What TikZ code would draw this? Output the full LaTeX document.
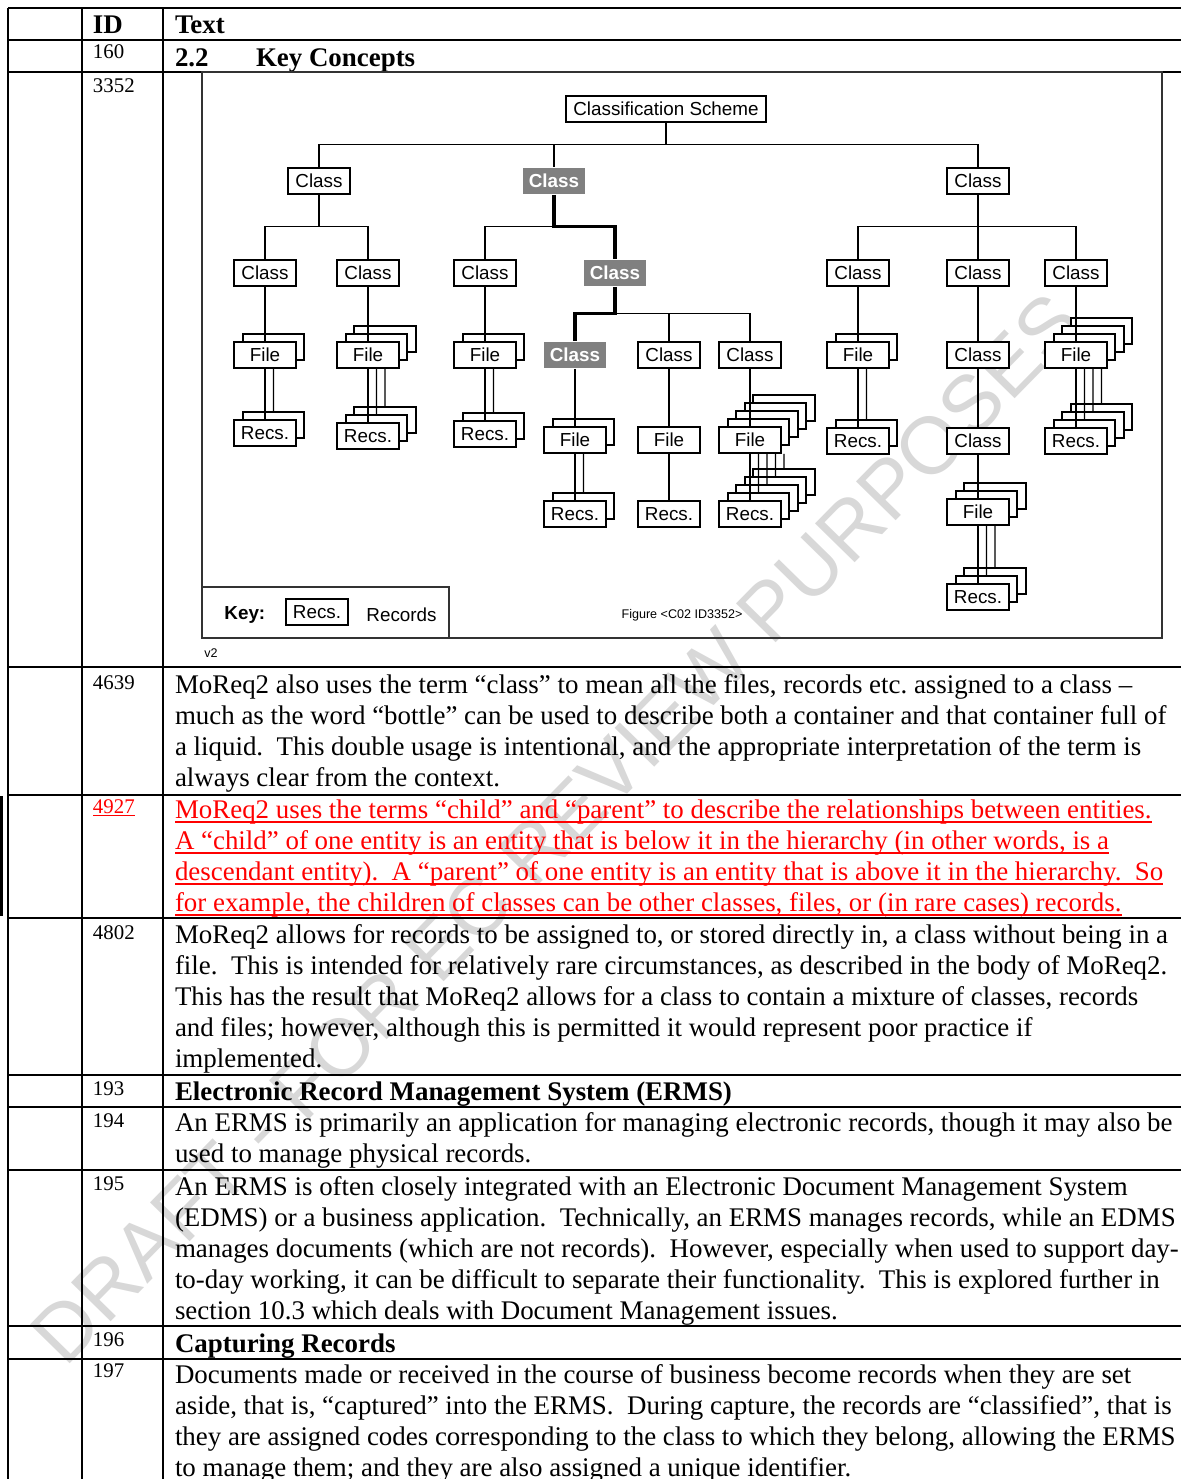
\documentclass[tikz,border=0pt]{standalone}
\usepackage{fontspec}
\setmainfont{Liberation Serif}
\newfontfamily\arialf{Liberation Sans}
\definecolor{grayc}{RGB}{128,128,128}
\definecolor{wmc}{RGB}{216,216,216}
\tikzset{
  txt/.style={anchor=base west, inner sep=0pt, outer sep=0pt, font=\fontsize{12}{14}\selectfont},
  btxt/.style={txt, font=\bfseries\fontsize{12}{14}\selectfont},
  idn/.style={anchor=base west, inner sep=0pt, outer sep=0pt, font=\fontsize{9.3}{11}\selectfont},
  rulel/.style={line width=0.8pt},
  bx/.style={draw, line width=0.9pt, fill=white, minimum width=27.6pt, minimum height=11.5pt, inner sep=0pt, font=\arialf\fontsize{8.4}{10}\selectfont},
  gbx/.style={fill=grayc, text=white, minimum width=28pt, minimum height=12pt, inner sep=0pt, font=\arialf\bfseries\fontsize{8.4}{10}\selectfont},
  tline/.style={line width=0.5pt},
  thk/.style={line width=1.4pt},
}
\newcommand\stk[5]{%
  \foreach \k in {4,3,2,1}{\ifnum\k<#5\relax \node[bx] (#1-\k) at ({#2+\k*8.5},{#3-\k*8}) {};\fi}
  \node[bx] (#1) at (#2,#3) {#4};}
\newcommand\multi[3]{%
  \draw[tline] (#1.south) -- (#2.north);
  \foreach \k in {1,2,3,4}{\ifnum\k<#3\relax
     \draw[tline] ([xshift=\k*3.79pt]#1.south) -- (#2-\k.north);\fi}}
\newcommand\tl[3]{\node[txt] (#1) at (175,#2) {#3};}
\newcommand\rl[3]{\node[txt,text=red] (#1) at (175,#2) {#3};
  \draw[red,line width=0.65pt] ([yshift=-1.8pt]#1.base west) -- ([yshift=-1.8pt]#1.base east);}
\begin{document}
\begin{tikzpicture}[x=0.446pt,y=-0.446pt]
\useasboundingbox (0,0) rectangle (1181,1479);
\frenchspacing
% watermark
\node[rotate=45.6, inner sep=0pt, text=wmc, font=\arialf\fontsize{36}{40}\selectfont] (wm) at (556,828) {DRAFT - FOR EC REVIEW PURPOSES};
% table rules
\foreach \yy in {8,40,72,667,795,918,1075,1107,1170,1326,1359}{\draw[rulel] (8,\yy) -- (1181,\yy);}
\foreach \xx in {8,82,163}{\draw[rulel] (\xx,8) -- (\xx,1479);}
\draw[line width=1.3pt] (1.5,796) -- (1.5,916);
% header
\node[btxt] (hid) at (93,33) {ID};
\node[btxt] (htx) at (175,33) {Text};
\node[idn] (i160) at (93,58) {160};
\node[btxt] (s22) at (175,66) {2.2};
\node[btxt] (skc) at (256,66) {Key Concepts};
\node[idn] (i3352) at (93,92) {3352};
% 4639
\node[idn] (i4639) at (93,689) {4639};
\tl{a1}{693}{MoReq2 also uses the term “class” to mean all the files, records etc. assigned to a class –}
\tl{a2}{724}{much as the word “bottle” can be used to describe both a container and that container full of}
\tl{a3}{755}{a liquid.\ \ This double usage is intentional, and the appropriate interpretation of the term is}
\tl{a4}{786}{always clear from the context.}
% 4927
\node[idn,text=red] (i4927) at (93,813) {4927};
\draw[red,line width=0.5pt] ([yshift=-1.3pt]i4927.base west) -- ([yshift=-1.3pt]i4927.base east);
\rl{b1}{818}{MoReq2 uses the terms “child” and “parent” to describe the relationships between entities.}
\rl{b2}{849}{A “child” of one entity is an entity that is below it in the hierarchy (in other words, is a}
\rl{b3}{880}{descendant entity).\ \ A “parent” of one entity is an entity that is above it in the hierarchy.\ \ So}
\rl{b4}{911}{for example, the children of classes can be other classes, files, or (in rare cases) records.}
% 4802
\node[idn] (i4802) at (93,939) {4802};
\tl{c1}{943}{MoReq2 allows for records to be assigned to, or stored directly in, a class without being in a}
\tl{c2}{974}{file.\ \ This is intended for relatively rare circumstances, as described in the body of MoReq2.}
\tl{c3}{1005}{This has the result that MoReq2 allows for a class to contain a mixture of classes, records}
\tl{c4}{1036}{and files; however, although this is permitted it would represent poor practice if}
\tl{c5}{1067}{implemented.}
% 193
\node[idn] (i193) at (93,1095) {193};
\node[btxt] (d1) at (175,1100) {Electronic Record Management System (ERMS)};
% 194
\node[idn] (i194) at (93,1127) {194};
\tl{e1}{1131}{An ERMS is primarily an application for managing electronic records, though it may also be}
\tl{e2}{1162}{used to manage physical records.}
% 195
\node[idn] (i195) at (93,1190) {195};
\tl{f1}{1195}{An ERMS is often closely integrated with an Electronic Document Management System}
\tl{f2}{1226}{(EDMS) or a business application.\ \ Technically, an ERMS manages records, while an EDMS}
\tl{f3}{1257}{manages documents (which are not records).\ \ However, especially when used to support day-}
\tl{f4}{1288}{to-day working, it can be difficult to separate their functionality.\ \ This is explored further in}
\tl{f5}{1319}{section 10.3 which deals with Document Management issues.}
% 196
\node[idn] (i196) at (93,1346) {196};
\node[btxt] (g1) at (175,1352) {Capturing Records};
% 197
\node[idn] (i197) at (93,1377) {197};
\tl{h1}{1383}{Documents made or received in the course of business become records when they are set}
\tl{h2}{1414}{aside, that is, “captured” into the ERMS.\ \ During capture, the records are “classified”, that is}
\tl{h3}{1445}{they are assigned codes corresponding to the class to which they belong, allowing the ERMS}
\tl{h4}{1476}{to manage them; and they are also assigned a unique identifier.}
% figure frame
\draw[line width=0.6pt, black!80] (202,72) rectangle (1162,638);
\draw[line width=0.6pt, black!80] (202,587) rectangle (449,638);
\node[anchor=west, inner sep=0pt, font=\arialf\bfseries\fontsize{8.4}{10}\selectfont] (key) at (224,615) {Key:};
\node[bx] (keyr) at (317,612) {Recs.};
\node[anchor=west, inner sep=0pt, font=\arialf\fontsize{8.4}{10}\selectfont] (keyt) at (366,615) {Records};
\node[inner sep=0pt, font=\arialf\fontsize{5.6}{7}\selectfont] (fig) at (682,615) {Figure <C02 ID3352>};
\node[anchor=west, inner sep=0pt, font=\arialf\fontsize{5.6}{7}\selectfont] (ver) at (204,653) {v2};
% tree nodes
\node[bx, minimum width=89pt, minimum height=12pt] (CS) at (666,109) {Classification Scheme};
\node[bx] (A) at (319,181) {Class};
\node[gbx] (B) at (554,181) {Class};
\node[bx] (C) at (978,181) {Class};
\node[bx] (A1) at (265,273) {Class};
\node[bx] (A2) at (368,273) {Class};
\node[bx] (B1) at (485,273) {Class};
\node[gbx] (B2) at (615,273) {Class};
\node[bx] (C1) at (858,273) {Class};
\node[bx] (C2) at (978,273) {Class};
\node[bx] (C3) at (1076,273) {Class};
\stk{A1f}{265}{355}{File}{2}
\stk{A2f}{368}{355}{File}{3}
\stk{B1f}{485}{355}{File}{2}
\node[gbx] (B2a) at (575,355) {Class};
\node[bx] (B2b) at (669,355) {Class};
\node[bx] (B2c) at (750,355) {Class};
\stk{C1f}{858}{355}{File}{2}
\node[bx] (C2a) at (978,355) {Class};
\stk{C3f}{1076}{355}{File}{4}
\stk{A1r}{265}{433}{Recs.}{2}
\stk{A2r}{368}{436}{Recs.}{3}
\stk{B1r}{485}{434}{Recs.}{2}
\stk{B2af}{575}{440}{File}{2}
\stk{B2bf}{669}{440}{File}{1}
\stk{B2cf}{750}{440}{File}{5}
\stk{C1r}{858}{441}{Recs.}{2}
\node[bx] (C2b) at (978,441) {Class};
\stk{C3r}{1076}{441}{Recs.}{4}
\stk{B2ar}{575}{514}{Recs.}{2}
\stk{B2br}{669}{514}{Recs.}{1}
\stk{B2cr}{750}{514}{Recs.}{5}
\stk{C2bf}{978}{512}{File}{3}
\stk{C2br}{978}{597}{Recs.}{3}
% tree connectors
\draw[tline] (CS.south) -- ++(0,21) -| (A.north);
\draw[tline] (CS.south) ++(0,21) -| (B.north);
\draw[tline] (CS.south) ++(0,21) -| (C.north);
\draw[tline] (A.south) -- ++(0,32) -| (A1.north);
\draw[tline] (A.south) ++(0,32) -| (A2.north);
\draw[tline] (B.south) ++(0,32) -| (B1.north);
\draw[thk] (B.south) -- ++(0,32) -| (B2.north);
\draw[tline] (C.south) -- ++(0,32) -| (C1.north);
\draw[tline] (C.south) -- (C2.north);
\draw[tline] (C.south) ++(0,32) -| (C3.north);
\draw[tline] (B2.south) ++(0,26.5) -| (B2b.north);
\draw[tline] (B2.south) ++(0,26.5) -| (B2c.north);
\draw[thk] (B2.south) -- ++(0,26.5) -| (B2a.north);
\foreach \p/\q in {A1/A1f, A2/A2f, B1/B1f, C1/C1f, C3/C3f, C2/C2a, C2a/C2b, C2b/C2bf, B2a/B2af, B2b/B2bf, B2c/B2cf}{\draw[tline] (\p.south) -- (\q.north);}
\multi{A1f}{A1r}{2}
\multi{A2f}{A2r}{3}
\multi{B1f}{B1r}{2}
\multi{B2af}{B2ar}{2}
\multi{B2bf}{B2br}{1}
\multi{B2cf}{B2cr}{5}
\multi{C1f}{C1r}{2}
\multi{C2bf}{C2br}{3}
\multi{C3f}{C3r}{4}
\end{tikzpicture}
\end{document}
